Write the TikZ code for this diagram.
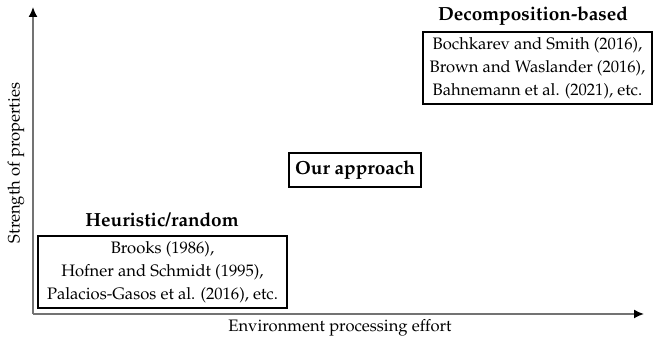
\documentclass[tikz,border=0pt]{standalone}
\usepackage[T1]{fontenc}
\usepackage{mathpazo}
\usetikzlibrary{arrows.meta}
\begin{document}
\begin{tikzpicture}[x=0.5pt,y=-0.5pt,
  axis/.style={draw=black!55,line width=0.8pt,-{Latex[black,length=5pt,width=4.5pt]}},
  refbox/.style={draw,line width=0.6pt,align=center,inner sep=0pt,font=\fontsize{8.3}{11.4}\selectfont},
  title/.style={font=\fontsize{9.5}{11}\selectfont\bfseries},
  lbl/.style={font=\fontsize{8.3}{10}\selectfont}]
\useasboundingbox (0,0) rectangle (654,340);
\coordinate (O) at (33,314);
\coordinate (ytip) at (33,7);
\coordinate (xtip) at (644,314);
\draw[axis] (O) -- (ytip);
\draw[axis] (O) -- (xtip);
\node[lbl,rotate=90] (ylab) at (16,163) {Strength of properties};
\node[lbl] (xlab) at (340,328) {Environment processing effort};
\node[refbox,minimum width=124.5pt,minimum height=36pt] (heur) at (162.5,272) {Brooks (1986),\\Hofner and Schmidt (1995),\\Palacios-Gasos et al. (2016), etc.};
\node[title] (heurt) at (162,220) {Heuristic/random};
\node[refbox,minimum width=114.5pt,minimum height=36pt] (dec) at (537.5,68) {Bochkarev and Smith (2016),\\Brown and Waslander (2016),\\Bahnemann et al. (2021), etc.};
\node[title] (dect) at (533,16) {Decomposition-based};
\node[draw,line width=0.6pt,title,minimum width=66pt,minimum height=17pt,inner sep=0pt] (our) at (355,170) {Our approach};
\end{tikzpicture}
\end{document}
